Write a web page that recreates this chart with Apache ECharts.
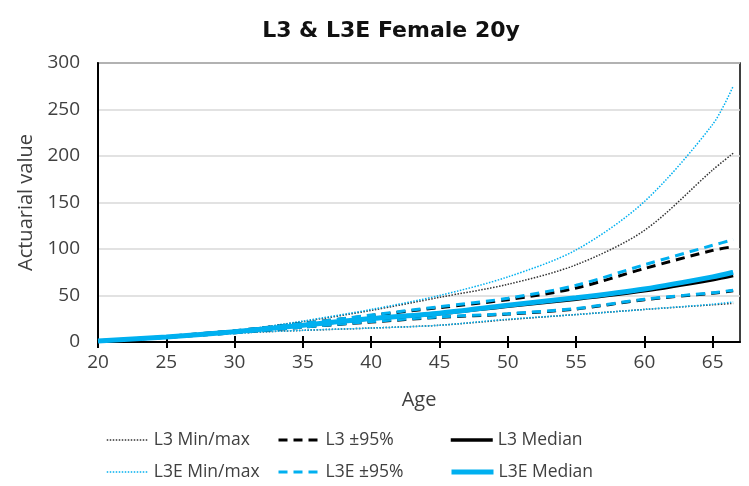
<!DOCTYPE html>
<html>
<head>
<meta charset="utf-8">
<script src="https://cdn.jsdelivr.net/npm/echarts@6/dist/echarts.min.js"></script>
<style>
  html, body { margin: 0; padding: 0; background: #fff; }
  #chart { width: 749px; height: 486px; }
</style>
</head>
<body>
<div id="chart"></div>
<script>
// ages
const ages = [20, 25, 30, 35, 40, 45, 50, 55, 60, 65, 66.5];
const ageTicks = [20, 25, 30, 35, 40, 45, 50, 55, 60, 65];

// L3
const l3Min = [1, 5, 9.5, 12.5, 15, 18, 24, 29.5, 35, 40, 41.5];
const l3Max = [1, 6, 12, 22, 34, 48, 62, 83, 120, 185, 203];
const l3Lo = [1, 5, 10, 16, 21.5, 26.5, 30, 35.5, 45.5, 52.5, 55];
const l3Hi = [1, 6, 12, 20, 28.5, 37, 45.5, 58, 79, 98.5, 102.5];
const l3Med = [1, 5.5, 11, 18, 25, 30.5, 38.5, 46, 55, 67, 71.5];

// L3E
const l3eMin = [1, 5, 9.5, 12.6, 15, 18, 24.5, 29.5, 35, 40.6, 43];
const l3eMax = [1, 6, 12, 22.5, 35, 50, 70, 99, 151, 234, 275];
const l3eLo = [1, 5, 10, 16, 22, 27, 30.5, 36, 46, 53, 55.7];
const l3eHi = [1, 6, 12, 20, 29, 38, 47, 61, 83, 104, 110];
const l3eMed = [1, 5.5, 11, 18, 25.2, 31, 39.5, 47.5, 57, 70, 75];

const BLUE = "#00B0F0";
const BLACK = "#000000";
const TXT = "#404040";
const FONT = "Open Sans";

function pts(vals) {
  return ages.map((a, i) => [a, vals[i]]);
}

function line(name, vals, color, width, type, z) {
  return {
    name: name,
    type: "line",
    data: pts(vals),
    symbol: "none",
    smooth: 0.3,
    z: z,
    lineStyle: { color: color, width: width, type: type },
    itemStyle: { color: color },
  };
}

function legendAt(name, left, top) {
  return {
    left: left,
    top: top,
    itemWidth: 42,
    itemHeight: 14,
    itemGap: 5,
    itemStyle: { opacity: 0 },
    lineStyle: { width: "inherit" },
    textStyle: { fontFamily: FONT, fontSize: 17.5, color: TXT },
    data: [name],
  };
}

const chart = echarts.init(document.getElementById("chart"));

chart.setOption({
  animation: false,
  title: {
    text: "L3 & L3E Female 20y",
    left: 386,
    top: 15,
    textAlign: "center",
    textStyle: { fontFamily: "DejaVu Sans", fontSize: 22, fontWeight: "bold", color: "#111" },
  },
  grid: {
    left: 98,
    right: 9,
    top: 63,
    bottom: 144,
    show: true,
    borderColor: "#000",
    borderWidth: 1.5,
  },
  legend: [
    legendAt("L3 Min/max", 101, 426),
    legendAt("L3E Min/max", 101, 458),
    legendAt("L3 ±95%", 272, 426),
    legendAt("L3E ±95%", 272, 458),
    legendAt("L3 Median", 444, 426),
    legendAt("L3E Median", 444, 458),
  ],
  xAxis: [
    {
      type: "value",
      min: 20,
      max: 67,
      interval: 5,
      name: "Age",
      nameLocation: "middle",
      nameGap: 48,
      nameTextStyle: { fontFamily: FONT, fontSize: 20, color: TXT },
      axisLine: { show: true, lineStyle: { color: "#000", width: 2 } },
      axisTick: { show: true, length: 6, customValues: ageTicks, lineStyle: { color: "#000", width: 2 } },
      axisLabel: { customValues: ageTicks, margin: 11, fontFamily: FONT, fontSize: 19, color: TXT },
      splitLine: { show: false },
    },
    {
      type: "value",
      position: "bottom",
      min: 20,
      max: 67,
      interval: 5,
      axisLine: { show: false },
      axisTick: { show: true, inside: true, length: 6, customValues: ageTicks, lineStyle: { color: "#000", width: 2 } },
      axisLabel: { show: false },
      splitLine: { show: false },
    },
  ],
  yAxis: {
    type: "value",
    min: 0,
    max: 300,
    interval: 50,
    name: "Actuarial value",
    nameLocation: "middle",
    nameGap: 56,
    nameTextStyle: { fontFamily: FONT, fontSize: 20, color: TXT },
    axisLine: { show: true, lineStyle: { color: "#000", width: 2 } },
    axisTick: { show: false },
    axisLabel: { margin: 18, fontFamily: FONT, fontSize: 19, color: TXT },
    splitLine: { lineStyle: { color: "#d9d9d9", width: 1.5 } },
  },
  series: [
    line("L3 Min/max", l3Min, "#333", 1.5, "dotted", 2),
    line("L3 Min/max", l3Max, "#333", 1.5, "dotted", 2),
    line("L3 ±95%", l3Lo, BLACK, 3, [9, 6], 3),
    line("L3 ±95%", l3Hi, BLACK, 3, [9, 6], 3),
    line("L3 Median", l3Med, BLACK, 3.5, "solid", 4),
    line("L3E Min/max", l3eMin, BLUE, 1.5, "dotted", 2),
    line("L3E Min/max", l3eMax, BLUE, 1.5, "dotted", 2),
    line("L3E ±95%", l3eLo, BLUE, 3, [9, 6], 3),
    line("L3E ±95%", l3eHi, BLUE, 3, [9, 6], 3),
    line("L3E Median", l3eMed, BLUE, 5, "solid", 5),
  ],
});
</script>
</body>
</html>
